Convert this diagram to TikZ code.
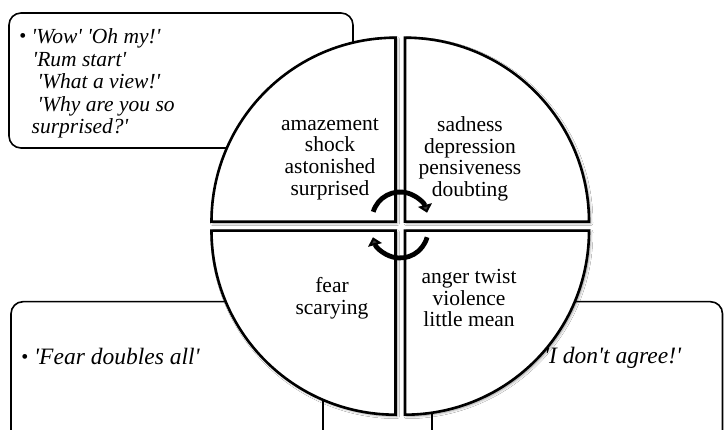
\documentclass[tikz,border=0pt]{standalone}
\usepackage{fontspec}
\setmainfont{Liberation Serif}[Ligatures=TeXOff]
\usetikzlibrary{arrows.meta,shadows,shadows.blur}
\begin{document}
\begin{tikzpicture}[x=1pt,y=1pt,
  box/.style={draw=black, line width=1.6pt, rounded corners=12pt, fill=white},
  quad/.style={draw=black, line width=2.6pt, fill=white, line join=miter,
    blur shadow={shadow xshift=1.5pt, shadow yshift=-1.5pt, shadow opacity=45, shadow blur radius=2.5pt}},
  qtext/.style={align=center, inner sep=0pt, font=\fontsize{21.5}{21.7}\selectfont},
  itext/.style={inner sep=0pt, font=\fontsize{23.5}{24}\selectfont\itshape},
  ttext/.style={inner sep=0pt, align=left, font=\fontsize{21.5}{22.5}\selectfont\itshape},
  bul/.style={inner sep=0pt, font=\fontsize{20}{20}\selectfont},
  cyc/.style={line width=4.8pt, -{Triangle[width=14pt,length=8pt]}}]
\clip (0,0) rectangle (724,430);
\fill[white] (0,0) rectangle (724,430);

% boxes behind the circle
\draw[box] (9,282) rectangle (353,417);
\draw[box] (11,-30) rectangle (323,128.3);
\draw[box] (432,-30) rectangle (722.5,128.3);

% box texts
\node[bul] (b1) at (23,392) {•};
\node[ttext, anchor=west] (t1) at (31.5,346.5) {'Wow' 'Oh my!'\\\hspace{1pt}'Rum start'\\\hspace{6pt}'What a view!'\\\hspace{6pt}'Why are you so\\surprised?'};
\node[bul] (b2) at (25,70.5) {•};
\node[itext, anchor=west] (t2) at (34,73.3) {'Fear doubles all'};
\node[itext, anchor=west] (t3) at (544,72) {'I don't agree!'};

% quadrants
\draw[quad] (395.5,208.3) -- ++(-184,0) arc[start angle=180, end angle=90, radius=184] -- cycle;
\draw[quad] (405,208.3) -- ++(0,184) arc[start angle=90, end angle=0, radius=184] -- cycle;
\draw[quad] (405,199.3) -- ++(184,0) arc[start angle=0, end angle=-90, radius=184] -- cycle;
\draw[quad] (395.5,199.3) -- ++(0,-184) arc[start angle=-90, end angle=-180, radius=184] -- cycle;

% quadrant texts
\node[qtext] (q1) at (330,271) {amazement\\shock\\astonished\\surprised};
\node[qtext] (q2) at (470,271) {sadness\\depression\\pensiveness\\doubting};
\node[qtext] (q3) at (332,131.5) {fear\\scarying};
\node[qtext] (q4) at (469,132) {anger twist\\violence\\little mean};

% cycle arrows
\coordinate (ctop) at (400,210);
\coordinate (cbot) at (400,200);
\draw[cyc] ([shift={(163:28)}]ctop) arc[start angle=163, end angle=15, radius=28];
\draw[cyc] ([shift={(-15:28)}]cbot) arc[start angle=-15, end angle=-165, radius=28];
\end{tikzpicture}
\end{document}
